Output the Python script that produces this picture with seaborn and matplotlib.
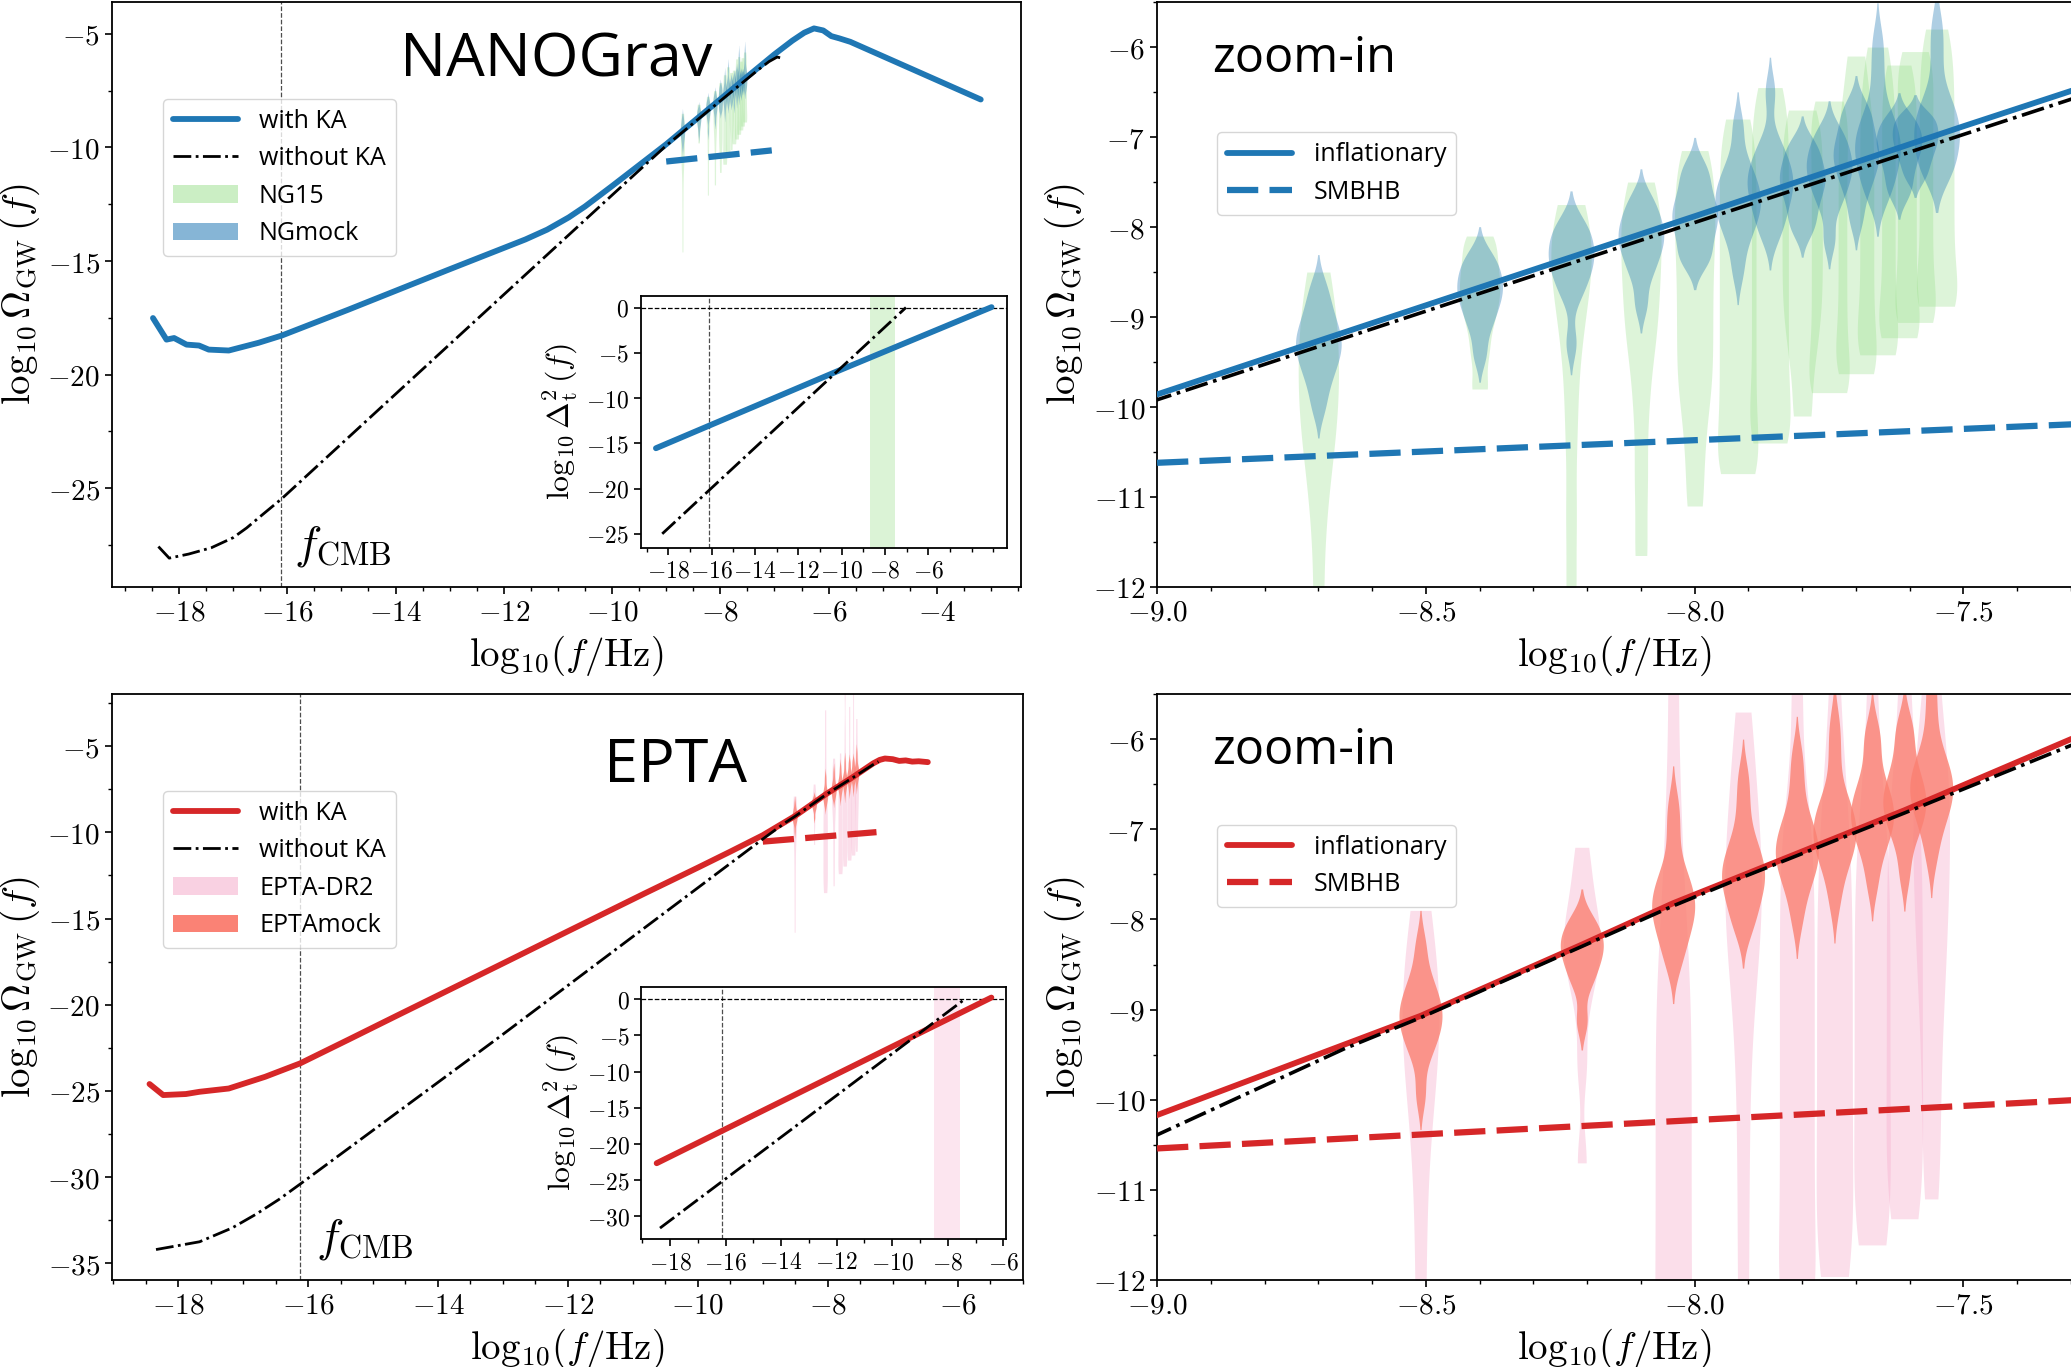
import numpy as np
import pandas as pd
import seaborn as sns
import matplotlib.pyplot as plt
from matplotlib.lines import Line2D
from matplotlib.patches import Patch
from matplotlib.ticker import FuncFormatter, MultipleLocator

# ---------------- data ----------------
f_cmb = -16.12

# NANOGrav row: Omega_GW curves
ng_ka_x = [-18.48, -18.23, -18.09, -17.86, -17.63, -17.45, -17.08, -16.53, -16.10, -14.88,
           -13.04, -11.60, -11.20, -10.80, -10.50, -10.00, -9.50, -9.00, -8.50, -8.00,
           -7.50, -7.00, -6.67, -6.45, -6.27, -6.10, -5.95, -5.80, -5.60, -3.19]
ng_ka_y = [-17.51, -18.46, -18.39, -18.68, -18.72, -18.90, -18.94, -18.60, -18.28, -17.15,
           -15.40, -14.05, -13.62, -13.08, -12.60, -11.70, -10.78, -9.86, -8.87, -7.88,
           -6.88, -5.90, -5.30, -4.95, -4.76, -4.85, -5.10, -5.20, -5.35, -7.89]
ng_noka_x = [-18.38, -18.18, -17.82, -17.40, -17.00, -16.75, -16.50, -16.10, -14.00, -12.00,
             -10.00, -9.00, -8.00, -7.30, -7.10, -6.95, -6.85]
ng_noka_y = [-27.57, -28.08, -27.90, -27.62, -27.18, -26.75, -26.25, -25.46, -20.86, -16.48,
             -12.10, -9.92, -7.95, -6.58, -6.22, -6.02, -6.08]
ng_smbhb_x = [-9.00, -7.05]
ng_smbhb_y = [-10.62, -10.13]

# NANOGrav inset: Delta_t^2
ng_in_ka_x = [-18.57, -10.15, -3.08]
ng_in_ka_y = [-15.54, -6.99, 0.04]
ng_in_noka_x = [-18.28, -7.03]
ng_in_noka_y = [-24.99, 0.0]

# NANOGrav 15-yr frequency bins and violin samples
ng_freq = [-8.70, -8.40, -8.23, -8.10, -8.00, -7.92, -7.86, -7.80, -7.75, -7.70,
           -7.66, -7.62, -7.59, -7.55]
ng15_samples = [
    [-14.6, -13.5, -12.4, -11.4, -10.7, -10.4, -10.1, -9.85, -9.6, -9.35, -9.1, -8.8, -8.5],
    [-9.8, -9.4, -9.1, -8.9, -8.75, -8.6, -8.45, -8.25, -8.1],
    [-12.1, -11.2, -10.3, -9.6, -9.1, -8.8, -8.55, -8.35, -8.15, -7.95, -7.75],
    [-11.65, -10.8, -10.0, -9.4, -9.1, -8.8, -8.5, -8.25, -8.0, -7.75, -7.5],
    [-11.1, -10.5, -10.0, -9.7, -9.4, -9.1, -8.8, -8.5, -8.2, -7.95, -7.7, -7.4, -7.15],
    [-10.74, -10.7, -10.4, -10.1, -9.8, -9.5, -9.2, -8.9, -8.6, -8.3, -8.0, -7.7, -7.4, -7.1, -6.8],
    [-10.4, -10.35, -10.05, -9.75, -9.45, -9.15, -8.85, -8.55, -8.25, -7.95, -7.65, -7.35, -7.05, -6.75, -6.45],
    [-10.1, -9.5, -9.1, -8.8, -8.5, -8.2, -7.9, -7.6, -7.3, -7.0, -6.7],
    [-9.84, -9.8, -9.5, -9.2, -8.9, -8.6, -8.3, -8.0, -7.7, -7.4, -7.1, -6.8, -6.6],
    [-9.63, -9.6, -9.3, -9.0, -8.7, -8.4, -8.1, -7.8, -7.5, -7.2, -6.9, -6.6, -6.1],
    [-9.42, -9.4, -9.1, -8.8, -8.5, -8.2, -7.9, -7.6, -7.3, -7.0, -6.7, -6.4, -6.0],
    [-9.23, -9.2, -8.9, -8.6, -8.3, -8.0, -7.7, -7.4, -7.1, -6.8, -6.5, -6.2],
    [-9.06, -9.0, -8.7, -8.4, -8.1, -7.8, -7.5, -7.2, -6.9, -6.6, -6.3, -6.05],
    [-8.88, -8.85, -8.55, -8.25, -7.95, -7.65, -7.35, -7.05, -6.75, -6.45, -6.15, -5.8],
]
ngmock_samples = [
    [-10.00, -9.75, -9.60, -9.48, -9.38, -9.30, -9.22, -9.12, -9.00, -8.85, -8.65],
    [-9.42, -9.14, -8.99, -8.87, -8.77, -8.69, -8.61, -8.51, -8.41, -8.30],
    [-9.29, -8.77, -8.62, -8.50, -8.40, -8.32, -8.24, -8.14, -8.02, -7.95],
    [-8.86, -8.55, -8.40, -8.28, -8.18, -8.10, -8.02, -7.92, -7.80, -7.67],
    [-8.39, -8.33, -8.18, -8.06, -7.96, -7.88, -7.80, -7.70, -7.58, -7.43, -7.31],
    [-8.48, -8.16, -8.01, -7.89, -7.79, -7.71, -7.63, -7.53, -7.41, -7.26, -6.88],
    [-8.09, -7.95, -7.80, -7.68, -7.58, -7.50, -7.42, -7.32, -7.20, -7.05, -6.50],
    [-8.05, -7.91, -7.76, -7.64, -7.54, -7.46, -7.38, -7.28, -7.16, -7.05],
    [-8.14, -7.78, -7.63, -7.51, -7.41, -7.33, -7.25, -7.15, -7.03, -6.92],
    [-7.92, -7.65, -7.50, -7.38, -7.28, -7.20, -7.12, -7.02, -6.90, -6.75, -6.65],
    [-7.67, -7.56, -7.41, -7.29, -7.19, -7.11, -7.03, -6.93, -6.81, -6.66, -6.30, -5.94],
    [-7.65, -7.50, -7.35, -7.23, -7.13, -7.05, -6.97, -6.87, -6.77],
    [-7.45, -7.30, -7.18, -7.08, -7.00, -6.92, -6.82, -6.75],
    [-7.41, -7.39, -7.24, -7.12, -7.02, -6.94, -6.86, -6.76, -6.64, -6.49, -6.10, -5.76],
]

# EPTA row: Omega_GW curves
ep_ka_x = [-18.44, -18.23, -17.88, -17.67, -17.22, -16.66, -16.12, -15.38, -14.62, -13.10,
           -12.00, -10.81, -10.00, -9.50, -9.00, -8.51, -8.21, -8.04, -7.91, -7.61,
           -7.30, -7.20, -7.12, -7.00, -6.90, -6.80, -6.70, -6.60, -6.46]
ep_ka_y = [-24.60, -25.24, -25.18, -25.05, -24.86, -24.18, -23.40, -22.03, -20.61, -17.79,
           -15.74, -13.53, -12.05, -11.12, -10.17, -9.07, -8.28, -7.82, -7.51, -6.79,
           -6.00, -5.80, -5.72, -5.76, -5.86, -5.83, -5.90, -5.88, -5.93]
ep_noka_x = [-18.34, -17.67, -17.17, -16.80, -16.45, -16.12, -13.10, -11.00, -9.00, -8.65,
             -8.51, -8.21, -8.04, -7.91, -7.61, -7.30, -7.22]
ep_noka_y = [-34.20, -33.75, -32.95, -32.15, -31.30, -30.40, -22.00, -16.05, -10.39, -9.43,
             -9.09, -8.30, -7.85, -7.53, -6.82, -6.07, -5.90]
ep_smbhb_x = [-9.00, -7.25]
ep_smbhb_y = [-10.54, -9.99]

# EPTA inset
ep_in_ka_x = [-18.48, -6.43]
ep_in_ka_y = [-22.65, 0.2]
ep_in_noka_x = [-18.36, -7.38]
ep_in_noka_y = [-31.6, 0.0]

# EPTA DR2 frequency bins and violin samples
ep_freq = [-8.51, -8.21, -8.04, -7.91, -7.81, -7.74, -7.67, -7.61, -7.56]
eptadr2_samples = [
    [-15.8, -14.2, -12.8, -11.6, -10.6, -9.9, -9.55, -9.25, -9.0, -8.7, -8.4, -7.9],
    [-10.7, -9.6, -8.9, -8.6, -8.4, -8.25, -8.1, -7.9, -7.6, -7.2],
    [-13.5, -13.3, -12.8, -12.3, -11.8, -11.3, -10.8, -10.3, -9.8, -9.3, -8.8, -8.4, -7.6, -6.5, -4.8, -2.9],
    [-13.1, -11.9, -10.8, -9.8, -9.0, -8.5, -8.1, -7.8, -7.5, -7.2, -6.8, -6.3, -5.7],
    [-12.4, -12.3, -11.9, -11.5, -11.1, -10.7, -10.3, -9.9, -9.5, -9.1, -8.7, -8.3, -7.9, -7.5, -7.1, -6.6, -5.4],
    [-11.96, -11.9, -11.5, -11.1, -10.7, -10.3, -9.9, -9.5, -9.1, -8.7, -8.3, -7.9, -7.5, -7.1, -6.6, -5.8, -4.2, -1.9],
    [-11.61, -11.55, -11.2, -10.85, -10.5, -10.15, -9.8, -9.45, -9.1, -8.75, -8.4, -8.05, -7.7, -7.35, -7.0, -6.5, -5.5, -4.0, -2.7],
    [-11.32, -11.25, -10.9, -10.55, -10.2, -9.85, -9.5, -9.15, -8.8, -8.45, -8.1, -7.75, -7.4, -7.05, -6.7, -6.2, -5.2, -3.6, -1.9],
    [-11.1, -10.4, -9.7, -9.1, -8.6, -8.2, -7.8, -7.45, -7.1, -6.8, -6.45, -6.1, -5.6, -4.6, -3.4],
]
eptamock_samples = [
    [-9.94, -9.52, -9.37, -9.25, -9.15, -9.07, -8.99, -8.89, -8.77, -8.62, -8.29],
    [-9.13, -8.73, -8.58, -8.46, -8.36, -8.28, -8.20, -8.10, -7.98],
    [-8.50, -8.30, -8.15, -8.03, -7.93, -7.85, -7.77, -7.67, -7.55, -7.40, -7.05, -6.73],
    [-8.12, -7.96, -7.81, -7.69, -7.59, -7.51, -7.43, -7.33, -7.21, -7.06, -6.75, -6.42],
    [-8.00, -7.70, -7.55, -7.43, -7.33, -7.25, -7.17, -7.07, -6.95, -6.80, -6.50, -6.18],
    [-7.80, -7.48, -7.33, -7.21, -7.11, -7.03, -6.95, -6.85, -6.73, -6.58, -6.20, -5.84],
    [-7.60, -7.29, -7.14, -7.02, -6.92, -6.84, -6.76, -6.66, -6.54, -6.39, -6.10, -5.89],
    [-7.50, -7.15, -7.00, -6.88, -6.78, -6.70, -6.62, -6.52, -6.40, -6.25, -6.00, -5.82],
    [-7.30, -7.00, -6.85, -6.73, -6.63, -6.55, -6.47, -6.37, -6.25, -6.10, -5.75, -5.35],
]

# ---------------- style ----------------
blue = "#1f77b4"
red = "#d62728"
green = "#98df8a"
pink = "#f7b6d2"
salmon = "salmon"

sns.set_style("ticks")
plt.rcParams["font.family"] = ["Open Sans", "DejaVu Sans"]
plt.rcParams.update({
    "mathtext.fontset": "cm",
    "axes.edgecolor": "k", "axes.linewidth": 1.3,
    "text.color": "k", "axes.labelcolor": "k",
    "xtick.color": "k", "ytick.color": "k",
    "xtick.direction": "out", "ytick.direction": "out",
    "xtick.major.size": 5, "ytick.major.size": 5,
    "xtick.minor.size": 3, "ytick.minor.size": 3,
    "xtick.major.width": 1.2, "ytick.major.width": 1.2,
    "xtick.minor.width": 1.0, "ytick.minor.width": 1.0,
    "xtick.labelsize": 21, "ytick.labelsize": 21,
})


def violins(ax, freqs, samples, color, width, alpha, bw, cut):
    df = pd.DataFrame({"freq": np.repeat(freqs, [len(s) for s in samples]),
                       "val": np.concatenate(samples)})
    w = width / np.min(np.diff(np.sort(freqs)))
    sns.violinplot(data=df, x="freq", y="val", native_scale=True, orient="x",
                   width=w, density_norm="width", cut=cut, inner=None, linewidth=0,
                   color=color, saturation=1, bw_adjust=bw, alpha=alpha, ax=ax)


def style(ax, xt, yt, xl, yl, xminor, yminor, xfmt="{:g}", size=21):
    ax.set_xticks(xt)
    ax.set_yticks(yt)
    ax.set_xlim(xl)
    ax.set_ylim(yl)
    if xminor:
        ax.xaxis.set_minor_locator(MultipleLocator(xminor))
    if yminor:
        ax.yaxis.set_minor_locator(MultipleLocator(yminor))
    ax.xaxis.set_major_formatter(FuncFormatter(lambda v, p: "$" + xfmt.format(v) + "$"))
    ax.yaxis.set_major_formatter(FuncFormatter(lambda v, p: "$%g$" % v))
    ax.tick_params(labelsize=size)


xlab = r"$\mathrm{log}_{10}(f/{\rm Hz})$"
ylab = r"$\log_{10}\Omega_{\rm GW}\,(f)$"
dlab = r"$\log_{10}\Delta_{\rm t}^2\,(f)$"
dash = (0, (5, 1.8))

fig = plt.figure(figsize=(20.71, 13.67), dpi=100)
ax_tl = fig.add_axes([0.054, 0.5706, 0.4389, 0.4279])
ax_tr = fig.add_axes([0.5587, 0.5706, 0.4413, 0.4279])
ax_bl = fig.add_axes([0.054, 0.0636, 0.4398, 0.4287])
ax_br = fig.add_axes([0.5587, 0.0636, 0.4413, 0.4287])
in_tl = fig.add_axes([0.3094, 0.5991, 0.1767, 0.1843])
in_bl = fig.add_axes([0.3097, 0.0934, 0.1761, 0.1848])

rows = [
    dict(ax=ax_tl, zoom=ax_tr, ins=in_tl, col=blue, dcol=green, mcol=blue,
         dalpha=0.32, malpha=0.36, dw=0.075, mw=0.085, freq=ng_freq,
         dsamp=ng15_samples, msamp=ngmock_samples,
         ka=(ng_ka_x, ng_ka_y), noka=(ng_noka_x, ng_noka_y), smbhb=(ng_smbhb_x, ng_smbhb_y),
         ika=(ng_in_ka_x, ng_in_ka_y), inoka=(ng_in_noka_x, ng_in_noka_y),
         labels=["with KA", "without KA", "NG15", "NGmock"], name="NANOGrav", name_x=0.317,
         name_y=0.872, xt=range(-18, -3, 2), yt=range(-25, -4, 5),
         xl=(-19.24, -2.45), yl=(-29.35, -3.6), it=range(-18, -5, 2), iyt=range(-25, 1, 5),
         ixl=(-19.27, -2.38), iyl=(-26.56, 1.26)),
    dict(ax=ax_bl, zoom=ax_br, ins=in_bl, col=red, dcol=pink, mcol=salmon,
         dalpha=0.45, malpha=0.8, dw=0.068, mw=0.08, freq=ep_freq,
         dsamp=eptadr2_samples, msamp=eptamock_samples,
         ka=(ep_ka_x, ep_ka_y), noka=(ep_noka_x, ep_noka_y), smbhb=(ep_smbhb_x, ep_smbhb_y),
         ika=(ep_in_ka_x, ep_in_ka_y), inoka=(ep_in_noka_x, ep_in_noka_y),
         labels=["with KA", "without KA", "EPTA-DR2", "EPTAmock"], name="EPTA", name_x=0.540,
         name_y=0.850, xt=range(-18, -5, 2), yt=range(-35, -4, 5),
         xl=(-19.02, -5.0), yl=(-35.97, -1.98), it=range(-18, -5, 2), iyt=range(-30, 1, 5),
         ixl=(-19.03, -5.9), iyl=(-33.15, 1.7)),
]

for r in rows:
    for ax, lw_k in [(r["ax"], 2.0), (r["zoom"], 2.6)]:
        violins(ax, r["freq"], r["dsamp"], r["dcol"], r["dw"], r["dalpha"], 0.5, 0)
        violins(ax, r["freq"], r["msamp"], r["mcol"], r["mw"], r["malpha"], 0.7, 2)
        sns.lineplot(x=r["ka"][0], y=r["ka"][1], ax=ax, color=r["col"], linewidth=4.2, zorder=3)
        sns.lineplot(x=r["noka"][0], y=r["noka"][1], ax=ax, color="k", linewidth=lw_k,
                     linestyle="-.", zorder=4)
        sns.lineplot(x=r["smbhb"][0], y=r["smbhb"][1], ax=ax, color=r["col"], linewidth=4.5,
                     linestyle=dash, zorder=3)
        ax.set_xlabel(xlab, fontsize=28)
        ax.set_ylabel(ylab, fontsize=28)

    # full-range panel
    ax = r["ax"]
    ax.axvline(f_cmb, color="0.3", lw=0.9, ls="--", zorder=1)
    ax.text(f_cmb + 0.25, 0.03, r"$f_{\rm CMB}$", transform=ax.get_xaxis_transform(),
            fontsize=33, va="bottom")
    ax.text(r["name_x"], r["name_y"], r["name"], transform=ax.transAxes, fontsize=44,
            va="baseline")
    style(ax, r["xt"], r["yt"], r["xl"], r["yl"], 0.5, 2.5)
    handles = [Line2D([], [], color=r["col"], lw=4.2),
               Line2D([], [], color="k", lw=2.0, ls="-."),
               Patch(facecolor=r["dcol"], edgecolor="none", alpha=r["dalpha"] + 0.18),
               Patch(facecolor=r["mcol"], edgecolor="none", alpha=r["malpha"] + 0.18)]
    ax.legend(handles, r["labels"], loc="upper left", bbox_to_anchor=(0.056, 0.835),
              borderaxespad=0, fontsize=18, handlelength=2.6, handletextpad=0.85)

    # zoom-in panel
    z = r["zoom"]
    z.text(0.06, 0.881, "zoom-in", transform=z.transAxes, fontsize=35, va="baseline")
    style(z, [-9.0, -8.5, -8.0, -7.5], range(-12, -5), (-9.0, -7.30), (-12, -5.5), 0.1, 0.5,
          xfmt="{:.1f}")
    z.spines["right"].set_visible(False)
    zh = [Line2D([], [], color=r["col"], lw=4.2), Line2D([], [], color=r["col"], lw=4.5, ls=dash)]
    z.legend(zh, ["inflationary", "SMBHB"], loc="upper left", bbox_to_anchor=(0.066, 0.777),
             borderaxespad=0, fontsize=18, handlelength=2.6, handletextpad=0.85)

    # inset with the tensor power spectrum
    ia = r["ins"]
    ia.axvspan(min(r["freq"]), max(r["freq"]), color=r["dcol"], alpha=0.35, lw=0, zorder=0)
    ia.axvline(f_cmb, color="0.3", lw=0.9, ls="--", zorder=1)
    ia.axhline(0, color="k", lw=0.9, ls="--", zorder=1)
    sns.lineplot(x=r["ika"][0], y=r["ika"][1], ax=ia, color=r["col"], linewidth=4.2, zorder=3)
    sns.lineplot(x=r["inoka"][0], y=r["inoka"][1], ax=ia, color="k", linewidth=2.0,
                 linestyle="-.", zorder=4)
    style(ia, r["it"], r["iyt"], r["ixl"], r["iyl"], 1, None, size=17)
    ia.set_xlabel("")
    ia.set_ylabel(dlab, fontsize=23)

fig.savefig("out.png", dpi=100)
